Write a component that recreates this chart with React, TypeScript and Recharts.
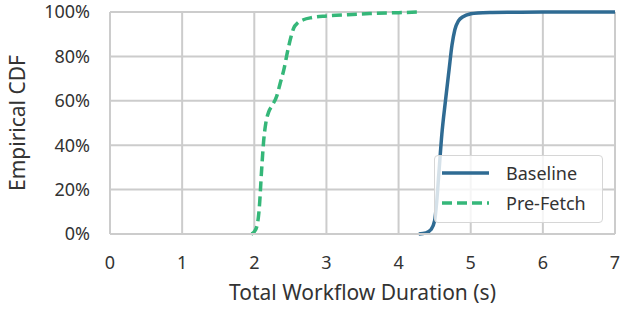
import React from 'react';
import { CartesianGrid, Line, LineChart, XAxis, YAxis } from 'recharts';

// CDF samples (duration in s, percent of workflows)
const baselineX = [4.28, 4.38, 4.45, 4.5, 4.53, 4.56, 4.6, 4.65, 4.7, 4.74, 4.78, 4.83, 4.9, 5.0, 5.1, 5.3, 5.6, 6.0, 7.0];
const baselineY = [0, 0.5, 2, 6, 15, 28, 45, 60, 74, 85, 92, 96, 98, 99.2, 99.6, 99.8, 99.9, 100, 100];

const prefetchX = [1.96, 2.0, 2.04, 2.07, 2.1, 2.13, 2.16, 2.2, 2.25, 2.31, 2.36, 2.41, 2.46, 2.51, 2.55, 2.6, 2.68, 2.8, 3.0, 3.3, 3.6, 4.0, 4.3];
const prefetchY = [0, 1, 4, 12, 28, 42, 50, 55, 58, 62, 68, 74, 82, 89, 93, 95, 96.5, 97.5, 98.2, 98.8, 99.3, 99.7, 100];

const xTicks = [0, 1, 2, 3, 4, 5, 6, 7];
const yTicks = [0, 20, 40, 60, 80, 100];

const BLUE = '#2f6b93';
const GREEN = '#35b779';
const FONT = '"Noto Sans", Lato, sans-serif';

const baselineData = baselineX.map((x, i) => ({ x, y: baselineY[i] }));
const prefetchData = prefetchX.map((x, i) => ({ x, y: prefetchY[i] }));

const legendItems = [
  { name: 'Baseline', color: BLUE, dash: undefined },
  { name: 'Pre-Fetch', color: GREEN, dash: '10 5' },
];

const ChartLegend = () => (
  <div
    style={{
      position: 'absolute',
      left: 434,
      top: 155,
      width: 169,
      height: 68,
      background: 'rgba(255,255,255,0.8)',
      border: '1px solid #d6d6d6',
      borderRadius: 4,
      boxSizing: 'border-box',
      fontFamily: FONT,
      fontSize: 18,
      color: '#333',
    }}
  >
    {legendItems.map((item, i) => (
      <div key={item.name} style={{ position: 'absolute', left: 0, top: 4 + i * 30, height: 26, display: 'flex', alignItems: 'center' }}>
        <svg width={60} height={26} style={{ display: 'block' }}>
          <line x1={7} x2={54} y1={13} y2={13} stroke={item.color} strokeWidth={3.5} strokeDasharray={item.dash} />
        </svg>
        <span style={{ marginLeft: 11 }}>{item.name}</span>
      </div>
    ))}
  </div>
);

export default function App() {
  return (
    <div style={{ position: 'absolute', left: 0, top: 0, width: 621, height: 311, background: '#fff' }}>
      <LineChart width={621} height={311} margin={{ top: 12, right: 6, left: 0, bottom: 0 }}>
        <CartesianGrid stroke="#cccccc" strokeWidth={2} />
        <XAxis
          type="number"
          dataKey="x"
          domain={[0, 7]}
          ticks={xTicks}
          allowDataOverflow
          height={77}
          tickLine={false}
          tickSize={0}
          tickMargin={22}
          axisLine={{ stroke: '#cccccc', strokeWidth: 2 }}
          tick={{ fill: '#333', fontSize: 18, fontFamily: FONT }}
          label={{ value: 'Total Workflow Duration (s)', position: 'insideBottom', offset: 11, fill: '#333', fontSize: 21, fontFamily: FONT }}
        />
        <YAxis
          type="number"
          dataKey="y"
          domain={[0, 100]}
          ticks={yTicks}
          width={110}
          tickLine={false}
          tickSize={0}
          tickMargin={20}
          tickFormatter={(v) => `${v}%`}
          axisLine={{ stroke: '#cccccc', strokeWidth: 2 }}
          tick={{ fill: '#333', fontSize: 18, fontFamily: FONT }}
          label={{ value: 'Empirical CDF', angle: -90, position: 'center', dx: -37, fill: '#333', fontSize: 21, fontFamily: FONT }}
        />
        <Line
          data={baselineData}
          dataKey="y"
          name="Baseline"
          type="monotone"
          stroke={BLUE}
          strokeWidth={3.5}
          dot={false}
          isAnimationActive={false}
        />
        <Line
          data={prefetchData}
          dataKey="y"
          name="Pre-Fetch"
          type="monotone"
          stroke={GREEN}
          strokeWidth={3.5}
          strokeDasharray="10 5"
          dot={false}
          isAnimationActive={false}
        />
      </LineChart>
      <ChartLegend />
    </div>
  );
}
